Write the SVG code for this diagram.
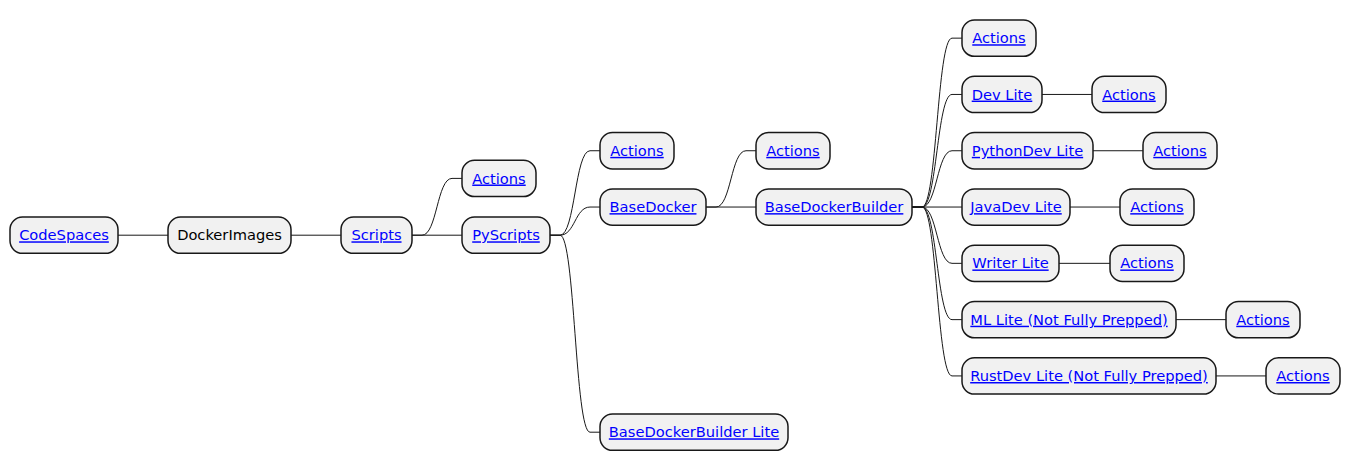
<svg xmlns="http://www.w3.org/2000/svg" width="1351" height="471" viewBox="0 0 1351 471">
<style>
.box{fill:#F1F1F1;stroke:#181818;stroke-width:1.5}
.t{font-family:"DejaVu Sans","Liberation Sans",sans-serif;font-size:14.65px;text-anchor:middle}
.lk{fill:#0000FF;text-decoration:underline}
.pl{fill:#000000}
.cn path{fill:none;stroke:#181818;stroke-width:1}
</style>
<rect width="1351" height="471" fill="#FFFFFF"/>
<g class="cn" id="connectors">
<path d="M118 235.2 L168 235.2"/>
<path d="M291 235.2 L341 235.2"/>
<path d="M412 235.2 L422 235.2 C437 235.2 437 178.4 452 178.4 L462 178.4"/>
<path d="M412 235.2 L462 235.2"/>
<path d="M550 235.2 L560 235.2 C575 235.2 575 150.74 590 150.74 L600 150.74"/>
<path d="M550 235.2 L560 235.2 C575 235.2 575 207.04 590 207.04 L600 207.04"/>
<path d="M550 235.2 L560 235.2 C575 235.2 575 432.2 590 432.2 L600 432.2"/>
<path d="M706 207.04 L716 207.04 C731 207.04 731 150.74 746 150.74 L756 150.74"/>
<path d="M706 207.04 L756 207.04"/>
<path d="M912 207.04 L922 207.04 C937 207.04 937 38.15 952 38.15 L962 38.15"/>
<path d="M912 207.04 L922 207.04 C937 207.04 937 94.45 952 94.45 L962 94.45"/>
<path d="M912 207.04 L922 207.04 C937 207.04 937 150.74 952 150.74 L962 150.74"/>
<path d="M912 207.04 L962 207.04"/>
<path d="M912 207.04 L922 207.04 C937 207.04 937 263.34 952 263.34 L962 263.34"/>
<path d="M912 207.04 L922 207.04 C937 207.04 937 319.63 952 319.63 L962 319.63"/>
<path d="M912 207.04 L922 207.04 C937 207.04 937 375.93 952 375.93 L962 375.93"/>
<path d="M1042 94.45 L1092 94.45"/>
<path d="M1093 150.74 L1143 150.74"/>
<path d="M1070 207.04 L1120 207.04"/>
<path d="M1059 263.34 L1110 263.34"/>
<path d="M1176 319.63 L1226 319.63"/>
<path d="M1216 375.93 L1266 375.93"/>
</g>
<g id="n-codespaces"><rect class="box" x="10" y="217.05" width="108" height="36.3" rx="12.5"/><text class="t lk" x="64" y="240.3">CodeSpaces</text></g>
<g id="n-dockerimages"><rect class="box" x="168" y="217.05" width="123" height="36.3" rx="12.5"/><text class="t pl" x="229.5" y="240.3">DockerImages</text></g>
<g id="n-scripts"><rect class="box" x="341" y="217.05" width="71" height="36.3" rx="12.5"/><text class="t lk" x="376.5" y="240.3">Scripts</text></g>
<g id="n-scripts-actions"><rect class="box" x="462" y="160.25" width="74" height="36.3" rx="12.5"/><text class="t lk" x="499" y="183.5">Actions</text></g>
<g id="n-pyscripts"><rect class="box" x="462" y="217.05" width="88" height="36.3" rx="12.5"/><text class="t lk" x="506" y="240.3">PyScripts</text></g>
<g id="n-pyscripts-actions"><rect class="box" x="600" y="132.59" width="74" height="36.3" rx="12.5"/><text class="t lk" x="637" y="155.84">Actions</text></g>
<g id="n-basedocker"><rect class="box" x="600" y="188.89" width="106" height="36.3" rx="12.5"/><text class="t lk" x="653" y="212.14">BaseDocker</text></g>
<g id="n-bdb-lite"><rect class="box" x="600" y="414.05" width="188" height="36.3" rx="12.5"/><text class="t lk" x="694" y="437.3">BaseDockerBuilder Lite</text></g>
<g id="n-basedocker-actions"><rect class="box" x="756" y="132.59" width="74" height="36.3" rx="12.5"/><text class="t lk" x="793" y="155.84">Actions</text></g>
<g id="n-bdb"><rect class="box" x="756" y="188.89" width="156" height="36.3" rx="12.5"/><text class="t lk" x="834" y="212.14">BaseDockerBuilder</text></g>
<g id="n-bdb-actions"><rect class="box" x="962" y="20" width="74" height="36.3" rx="12.5"/><text class="t lk" x="999" y="43.25">Actions</text></g>
<g id="n-devlite"><rect class="box" x="962" y="76.3" width="80" height="36.3" rx="12.5"/><text class="t lk" x="1002" y="99.55">Dev Lite</text></g>
<g id="n-devlite-actions"><rect class="box" x="1092" y="76.3" width="74" height="36.3" rx="12.5"/><text class="t lk" x="1129" y="99.55">Actions</text></g>
<g id="n-pythondev"><rect class="box" x="962" y="132.59" width="131" height="36.3" rx="12.5"/><text class="t lk" x="1027.5" y="155.84">PythonDev Lite</text></g>
<g id="n-pythondev-actions"><rect class="box" x="1143" y="132.59" width="74" height="36.3" rx="12.5"/><text class="t lk" x="1180" y="155.84">Actions</text></g>
<g id="n-javadev"><rect class="box" x="962" y="188.89" width="108" height="36.3" rx="12.5"/><text class="t lk" x="1016" y="212.14">JavaDev Lite</text></g>
<g id="n-javadev-actions"><rect class="box" x="1120" y="188.89" width="74" height="36.3" rx="12.5"/><text class="t lk" x="1157" y="212.14">Actions</text></g>
<g id="n-writer"><rect class="box" x="962" y="245.19" width="97" height="36.3" rx="12.5"/><text class="t lk" x="1010.5" y="268.44">Writer Lite</text></g>
<g id="n-writer-actions"><rect class="box" x="1110" y="245.19" width="74" height="36.3" rx="12.5"/><text class="t lk" x="1147" y="268.44">Actions</text></g>
<g id="n-ml"><rect class="box" x="962" y="301.48" width="214" height="36.3" rx="12.5"/><text class="t lk" x="1069" y="324.73">ML Lite (Not Fully Prepped)</text></g>
<g id="n-ml-actions"><rect class="box" x="1226" y="301.48" width="74" height="36.3" rx="12.5"/><text class="t lk" x="1263" y="324.73">Actions</text></g>
<g id="n-rust"><rect class="box" x="962" y="357.78" width="254" height="36.3" rx="12.5"/><text class="t lk" x="1089" y="381.03">RustDev Lite (Not Fully Prepped)</text></g>
<g id="n-rust-actions"><rect class="box" x="1266" y="357.78" width="74" height="36.3" rx="12.5"/><text class="t lk" x="1303" y="381.03">Actions</text></g>
</svg>
